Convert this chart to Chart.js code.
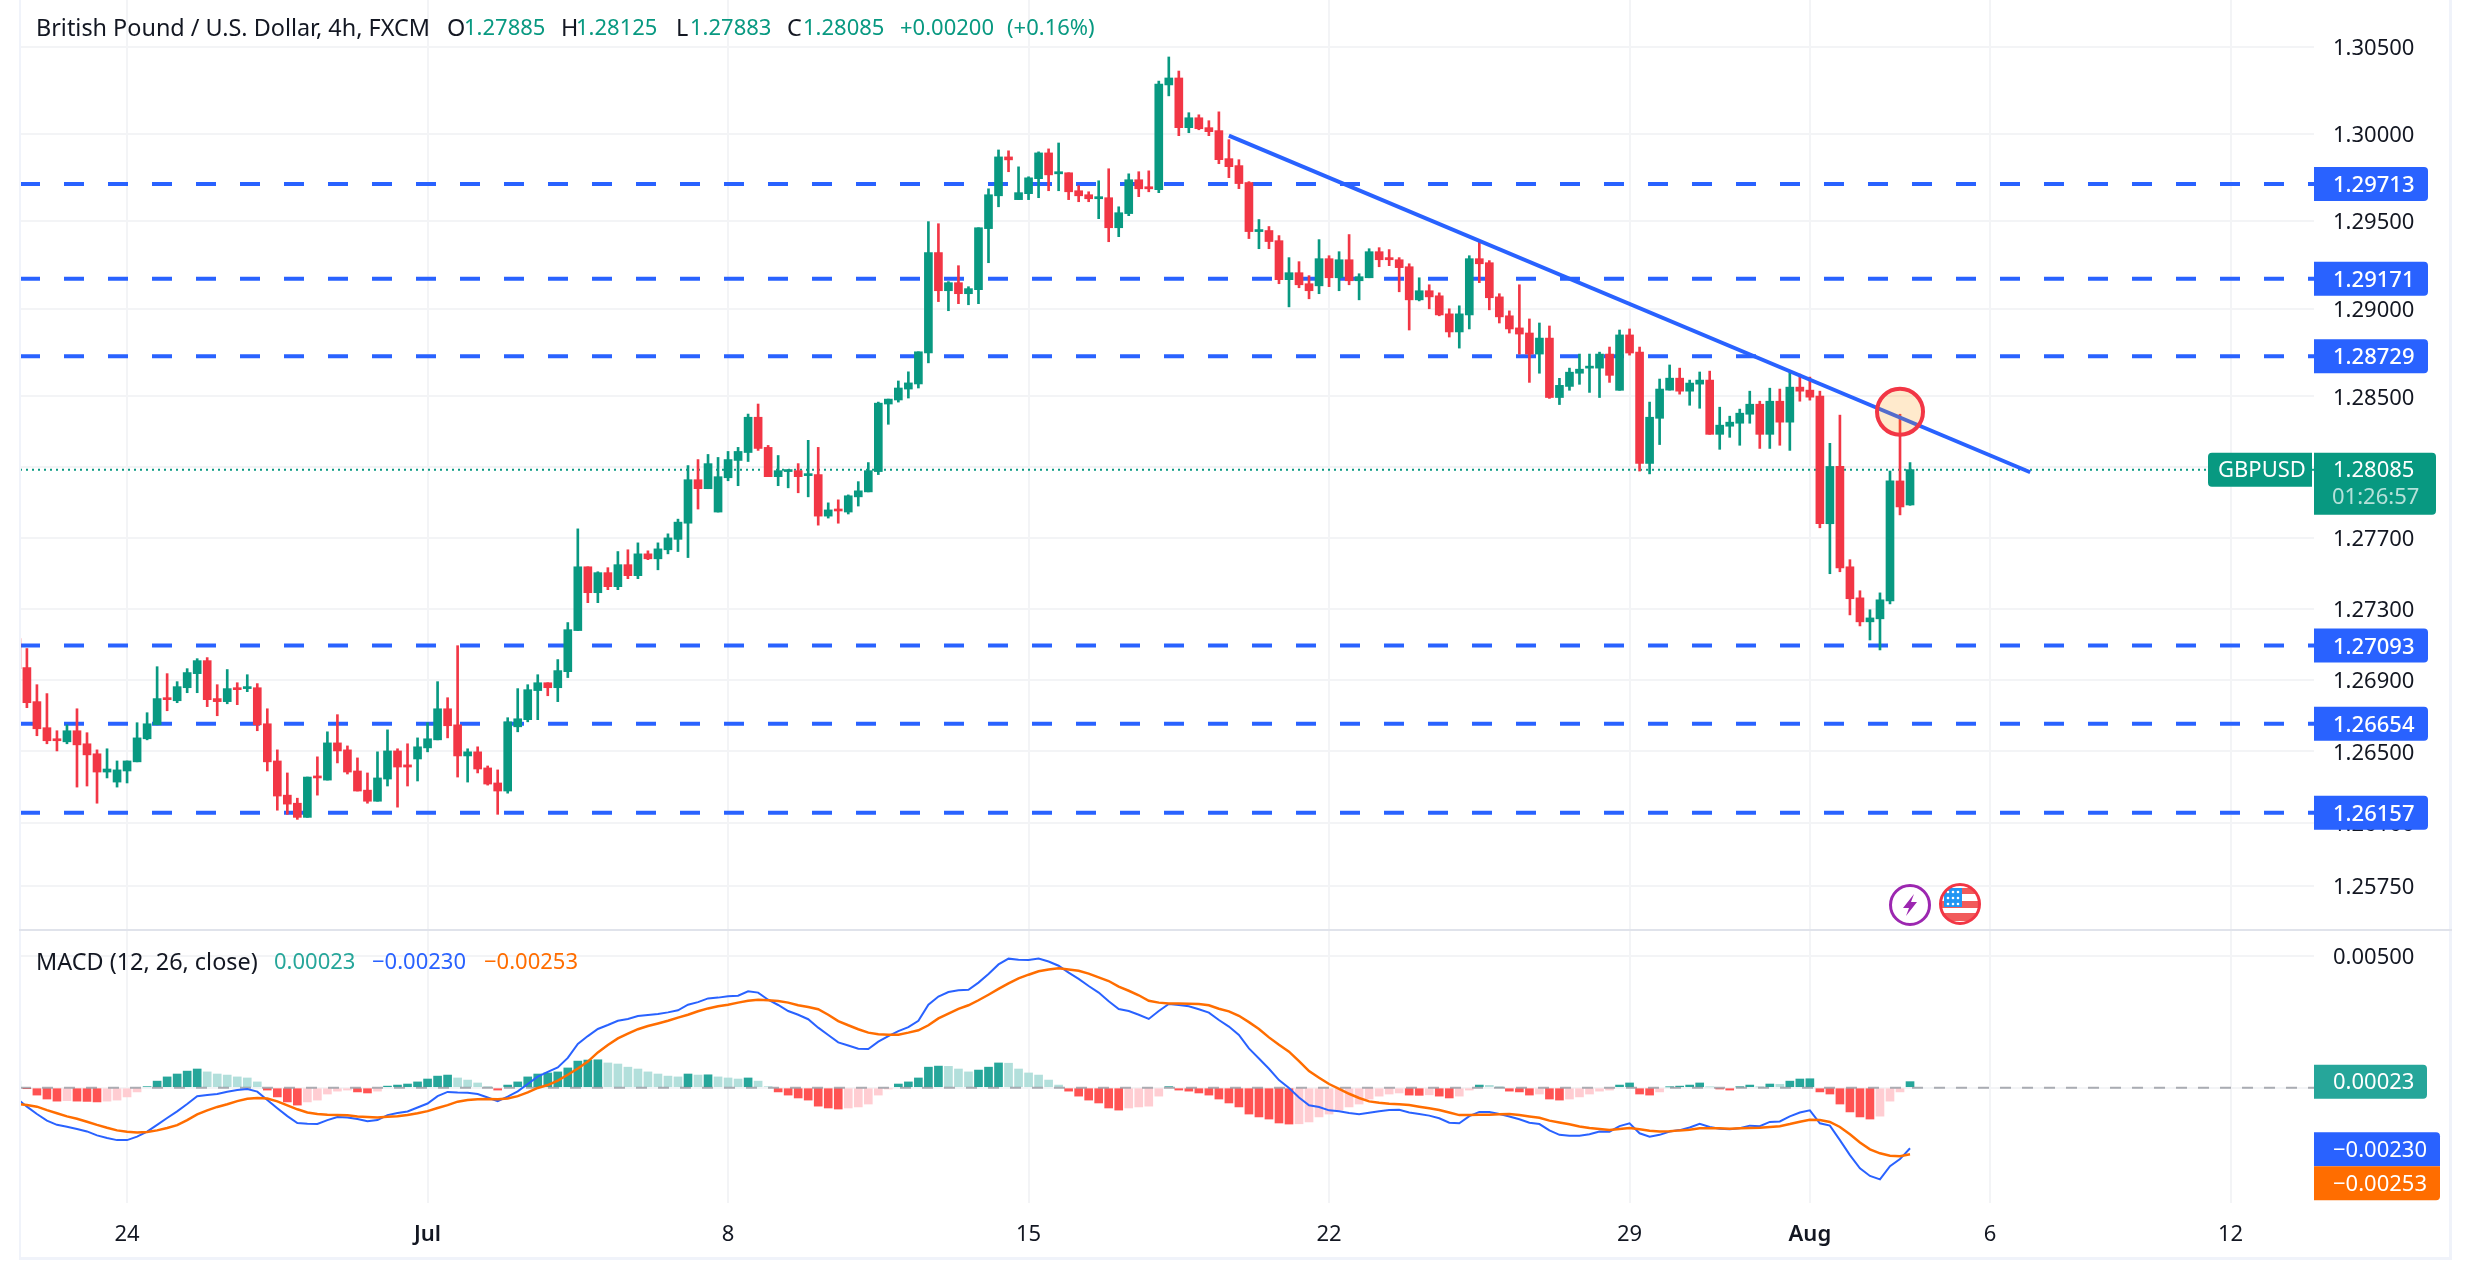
<!DOCTYPE html>
<html>
<head>
<meta charset="utf-8">
<title>GBPUSD 4h</title>
<script src="https://cdn.jsdelivr.net/npm/chart.js@4/dist/chart.umd.min.js"></script>
<style>
  html, body { margin: 0; padding: 0; background: #fff; width: 2470px; height: 1266px; overflow: hidden; }
  canvas { position: absolute; left: 0; display: block; }
  #priceChart { top: 0; }
  #macdChart { top: 931px; }
</style>
</head>
<body>
<canvas id="priceChart" width="2470" height="931"></canvas>
<canvas id="macdChart" width="2470" height="335"></canvas>
<script>
// Candles, 4h bars, the first one is cut off by the left edge
const opens = [
  1.27132,1.26969,1.26778,1.26632,1.26570,1.26553,1.26615,1.26542,1.26486,1.26384,
  1.26328,1.26390,1.26441,1.26570,1.26648,1.26800,1.26783,1.26856,1.26935,1.27008,
  1.26795,1.26778,1.26856,1.26851,1.26856,1.26654,1.26446,1.26255,1.26210,1.26131,
  1.26362,1.26339,1.26547,1.26508,1.26390,1.26283,1.26221,1.26345,1.26502,1.26424,
  1.26457,1.26519,1.26564,1.26738,1.26648,1.26474,1.26497,1.26407,1.26323,1.26278,
  1.26637,1.26677,1.26840,1.26884,1.26856,1.26946,1.27177,1.27536,1.27390,1.27503,
  1.27424,1.27548,1.27486,1.27609,1.27581,1.27632,1.27691,1.27782,1.28028,1.27977,
  1.27845,1.28039,1.28137,1.28182,1.28382,1.28211,1.28045,1.28074,1.28079,1.28051,
  1.28057,1.27822,1.27862,1.27845,1.27931,1.27959,1.28074,1.28457,1.28480,1.28542,
  1.28571,1.28748,1.29320,1.29102,1.29148,1.29085,1.29108,1.29457,1.29645,1.29868,
  1.29623,1.29657,1.29743,1.29891,1.29771,1.29777,1.29674,1.29651,1.29628,1.29634,
  1.29462,1.29543,1.29737,1.29697,1.29680,1.30282,1.30322,1.30036,1.30093,1.30036,
  1.30019,1.29858,1.29818,1.29721,1.29440,1.29446,1.29388,1.29165,1.29205,1.29142,
  1.29130,1.29285,1.29176,1.29279,1.29159,1.29176,1.29325,1.29291,1.29279,1.29239,
  1.29050,1.29102,1.29073,1.28970,1.28867,1.28964,1.29285,1.29262,1.29067,1.28959,
  1.28890,1.28861,1.28741,1.28832,1.28494,1.28557,1.28632,1.28661,1.28661,1.28741,
  1.28535,1.28850,1.28753,1.28120,1.28376,1.28536,1.28604,1.28530,1.28570,1.28593,
  1.28285,1.28331,1.28348,1.28399,1.28456,1.28285,1.28473,1.28354,1.28553,1.28536,
  1.28502,1.27779,1.28103,1.27536,1.27361,1.27226,1.27243,1.27344,1.28021,1.27885
];
const highs = [
  1.27132,1.27076,1.26873,1.26823,1.26615,1.26648,1.26738,1.26604,1.26508,1.26514,
  1.26446,1.26446,1.26660,1.26716,1.26974,1.26935,1.26890,1.26963,1.27019,1.27025,
  1.26873,1.26958,1.26884,1.26929,1.26879,1.26738,1.26508,1.26379,1.26238,1.26356,
  1.26469,1.26609,1.26705,1.26530,1.26463,1.26379,1.26497,1.26620,1.26514,1.26542,
  1.26575,1.26660,1.26890,1.26800,1.27092,1.26514,1.26525,1.26418,1.26396,1.26688,
  1.26851,1.26873,1.26929,1.26884,1.27014,1.27222,1.27750,1.27536,1.27508,1.27531,
  1.27622,1.27632,1.27671,1.27626,1.27671,1.27722,1.27805,1.28108,1.28142,1.28171,
  1.28154,1.28188,1.28211,1.28400,1.28457,1.28222,1.28165,1.28085,1.28119,1.28251,
  1.28211,1.27897,1.27914,1.27942,1.28017,1.28125,1.28468,1.28485,1.28588,1.28640,
  1.28754,1.29497,1.29485,1.29154,1.29245,1.29125,1.29462,1.29685,1.29908,1.29903,
  1.29811,1.29754,1.29897,1.29914,1.29948,1.29777,1.29703,1.29668,1.29731,1.29800,
  1.29582,1.29771,1.29783,1.29788,1.30304,1.30443,1.30362,1.30122,1.30110,1.30076,
  1.30127,1.29967,1.29852,1.29726,1.29509,1.29469,1.29417,1.29291,1.29268,1.29188,
  1.29394,1.29302,1.29325,1.29423,1.29199,1.29342,1.29348,1.29337,1.29291,1.29256,
  1.29176,1.29136,1.29090,1.28999,1.29016,1.29302,1.29383,1.29274,1.29085,1.28987,
  1.29136,1.28941,1.28918,1.28901,1.28603,1.28661,1.28741,1.28741,1.28752,1.28781,
  1.28878,1.28884,1.28781,1.28468,1.28599,1.28679,1.28661,1.28593,1.28639,1.28644,
  1.28439,1.28388,1.28428,1.28530,1.28473,1.28547,1.28542,1.28644,1.28627,1.28610,
  1.28530,1.28234,1.28394,1.27576,1.27401,1.27294,1.27389,1.28077,1.28399,1.28125
];
const lows = [
  1.26963,1.26744,1.26587,1.26542,1.26502,1.26542,1.26300,1.26306,1.26210,1.26351,
  1.26300,1.26323,1.26441,1.26564,1.26648,1.26727,1.26772,1.26828,1.26828,1.26750,
  1.26699,1.26766,1.26761,1.26834,1.26615,1.26390,1.26171,1.26148,1.26120,1.26131,
  1.26255,1.26339,1.26435,1.26373,1.26278,1.26210,1.26221,1.26306,1.26188,1.26306,
  1.26334,1.26497,1.26564,1.26575,1.26356,1.26328,1.26379,1.26311,1.26148,1.26266,
  1.26609,1.26665,1.26677,1.26811,1.26778,1.26913,1.27177,1.27334,1.27334,1.27407,
  1.27407,1.27469,1.27469,1.27576,1.27519,1.27609,1.27622,1.27588,1.27862,1.27977,
  1.27845,1.28022,1.27994,1.28131,1.28194,1.28045,1.27994,1.27982,1.27954,1.27931,
  1.27771,1.27811,1.27782,1.27834,1.27879,1.27959,1.28057,1.28342,1.28468,1.28491,
  1.28548,1.28691,1.29040,1.28988,1.29028,1.29022,1.29028,1.29262,1.29582,1.29783,
  1.29623,1.29623,1.29634,1.29674,1.29674,1.29623,1.29611,1.29611,1.29514,1.29382,
  1.29411,1.29531,1.29640,1.29668,1.29663,1.30219,1.29990,1.30007,1.30024,1.29990,
  1.29829,1.29749,1.29686,1.29400,1.29342,1.29342,1.29142,1.29010,1.29119,1.29056,
  1.29085,1.29125,1.29102,1.29136,1.29050,1.29176,1.29239,1.29245,1.29096,1.28878,
  1.29044,1.28999,1.28959,1.28838,1.28775,1.28884,1.29148,1.28993,1.28918,1.28861,
  1.28741,1.28580,1.28632,1.28489,1.28454,1.28535,1.28569,1.28523,1.28494,1.28580,
  1.28535,1.28735,1.28077,1.28061,1.28227,1.28536,1.28513,1.28450,1.28433,1.28285,
  1.28200,1.28268,1.28223,1.28348,1.28205,1.28205,1.28223,1.28194,1.28473,1.28479,
  1.27756,1.27497,1.27508,1.27265,1.27203,1.27124,1.27068,1.27327,1.27829,1.27883
];
const closes = [
  1.26963,1.26772,1.26626,1.26559,1.26559,1.26615,1.26536,1.26480,1.26384,1.26401,
  1.26396,1.26446,1.26575,1.26654,1.26795,1.26789,1.26862,1.26941,1.27008,1.26789,
  1.26778,1.26851,1.26845,1.26862,1.26648,1.26441,1.26250,1.26205,1.26131,1.26356,
  1.26351,1.26547,1.26502,1.26384,1.26278,1.26221,1.26351,1.26502,1.26412,1.26412,
  1.26525,1.26570,1.26738,1.26643,1.26474,1.26497,1.26401,1.26317,1.26278,1.26665,
  1.26682,1.26845,1.26884,1.26856,1.26952,1.27182,1.27536,1.27390,1.27503,1.27424,
  1.27548,1.27486,1.27609,1.27581,1.27637,1.27699,1.27788,1.28028,1.27977,1.28119,
  1.28045,1.28142,1.28188,1.28382,1.28205,1.28045,1.28079,1.28085,1.28045,1.28062,
  1.27822,1.27857,1.27851,1.27937,1.27965,1.28079,1.28462,1.28485,1.28548,1.28577,
  1.28754,1.29320,1.29102,1.29148,1.29085,1.29114,1.29462,1.29651,1.29868,1.29851,
  1.29663,1.29748,1.29891,1.29765,1.29783,1.29668,1.29645,1.29628,1.29640,1.29462,
  1.29548,1.29737,1.29685,1.29685,1.30287,1.30322,1.30036,1.30093,1.30030,1.30013,
  1.29852,1.29812,1.29715,1.29440,1.29451,1.29383,1.29165,1.29205,1.29136,1.29102,
  1.29285,1.29176,1.29279,1.29159,1.29182,1.29325,1.29279,1.29279,1.29234,1.29050,
  1.29102,1.29067,1.28964,1.28867,1.28970,1.29285,1.29256,1.29062,1.28953,1.28884,
  1.28855,1.28741,1.28832,1.28494,1.28563,1.28638,1.28655,1.28672,1.28741,1.28620,
  1.28850,1.28747,1.28120,1.28382,1.28542,1.28604,1.28530,1.28576,1.28593,1.28285,
  1.28337,1.28354,1.28405,1.28456,1.28285,1.28473,1.28354,1.28553,1.28530,1.28496,
  1.27779,1.28103,1.27530,1.27356,1.27226,1.27248,1.27350,1.28021,1.27874,1.28085
];

// MACD pane
const macdHist = [
  0.00025,-0.00003,-0.00028,-0.00043,-0.00051,-0.00049,-0.00051,-0.00052,-0.00054,-0.00051,
  -0.00047,-0.00035,-0.00016,0.00004,0.00025,0.00041,0.00052,0.00063,0.00071,0.00060,
  0.00052,0.00048,0.00041,0.00037,0.00022,-0.00009,-0.00035,-0.00054,-0.00066,-0.00054,
  -0.00047,-0.00024,-0.00013,-0.00009,-0.00016,-0.00020,-0.00013,0.00006,0.00010,0.00014,
  0.00022,0.00033,0.00044,0.00048,0.00037,0.00029,0.00018,0.00003,-0.00009,0.00010,
  0.00022,0.00041,0.00052,0.00056,0.00060,0.00075,0.00101,0.00105,0.00106,0.00094,
  0.00090,0.00078,0.00071,0.00060,0.00052,0.00044,0.00041,0.00052,0.00048,0.00049,
  0.00041,0.00037,0.00033,0.00037,0.00025,0.00004,-0.00016,-0.00028,-0.00039,-0.00047,
  -0.00070,-0.00077,-0.00081,-0.00077,-0.00073,-0.00062,-0.00028,-0.00005,0.00014,0.00022,
  0.00037,0.00078,0.00082,0.00081,0.00071,0.00060,0.00067,0.00078,0.00094,0.00093,
  0.00071,0.00056,0.00048,0.00029,0.00010,-0.00013,-0.00032,-0.00047,-0.00058,-0.00077,
  -0.00085,-0.00077,-0.00073,-0.00070,-0.00032,0.00004,-0.00009,-0.00013,-0.00020,-0.00028,
  -0.00043,-0.00058,-0.00073,-0.00100,-0.00111,-0.00119,-0.00134,-0.00138,-0.00137,-0.00130,
  -0.00111,-0.00100,-0.00085,-0.00073,-0.00062,-0.00043,-0.00032,-0.00024,-0.00020,-0.00028,
  -0.00029,-0.00027,-0.00032,-0.00039,-0.00032,-0.00009,0.00010,0.00009,0.00001,-0.00013,
  -0.00016,-0.00028,-0.00024,-0.00043,-0.00047,-0.00043,-0.00035,-0.00024,-0.00013,-0.00009,
  0.00010,0.00018,-0.00024,-0.00028,-0.00016,0.00003,0.00006,0.00010,0.00018,0.00003,
  -0.00005,-0.00009,0.00003,0.00010,0.00003,0.00014,0.00013,0.00025,0.00033,0.00034,
  -0.00016,-0.00024,-0.00062,-0.00092,-0.00111,-0.00119,-0.00108,-0.00051,-0.00016,0.00023
];
const macdLine = [
  -0.00041,-0.00072,-0.00100,-0.00125,-0.00141,-0.00148,-0.00157,-0.00166,-0.00181,-0.00191,
  -0.00199,-0.00199,-0.00186,-0.00167,-0.00141,-0.00115,-0.00090,-0.00062,-0.00032,-0.00028,
  -0.00024,-0.00015,-0.00009,-0.00005,-0.00015,-0.00047,-0.00078,-0.00108,-0.00134,-0.00137,
  -0.00138,-0.00123,-0.00111,-0.00113,-0.00119,-0.00127,-0.00123,-0.00104,-0.00096,-0.00090,
  -0.00075,-0.00060,-0.00032,-0.00016,-0.00018,-0.00019,-0.00024,-0.00037,-0.00051,-0.00034,
  -0.00014,0.00014,0.00042,0.00060,0.00077,0.00113,0.00166,0.00196,0.00223,0.00238,
  0.00254,0.00261,0.00272,0.00276,0.00280,0.00286,0.00294,0.00315,0.00325,0.00339,
  0.00342,0.00347,0.00349,0.00366,0.00361,0.00334,0.00314,0.00291,0.00277,0.00260,
  0.00228,0.00200,0.00172,0.00160,0.00148,0.00147,0.00175,0.00196,0.00215,0.00230,
  0.00254,0.00315,0.00346,0.00363,0.00370,0.00372,0.00399,0.00432,0.00468,0.00490,
  0.00486,0.00485,0.00490,0.00479,0.00463,0.00437,0.00413,0.00386,0.00361,0.00328,
  0.00299,0.00291,0.00277,0.00261,0.00291,0.00318,0.00314,0.00309,0.00298,0.00285,
  0.00257,0.00232,0.00200,0.00149,0.00111,0.00072,0.00029,-0.00001,-0.00037,-0.00067,
  -0.00073,-0.00086,-0.00089,-0.00096,-0.00101,-0.00095,-0.00089,-0.00085,-0.00084,-0.00094,
  -0.00100,-0.00106,-0.00116,-0.00133,-0.00135,-0.00108,-0.00092,-0.00092,-0.00100,-0.00109,
  -0.00120,-0.00133,-0.00138,-0.00162,-0.00179,-0.00182,-0.00182,-0.00177,-0.00166,-0.00167,
  -0.00146,-0.00135,-0.00173,-0.00186,-0.00179,-0.00166,-0.00161,-0.00151,-0.00137,-0.00149,
  -0.00156,-0.00158,-0.00154,-0.00144,-0.00146,-0.00130,-0.00128,-0.00109,-0.00094,-0.00086,
  -0.00135,-0.00144,-0.00199,-0.00256,-0.00306,-0.00335,-0.00348,-0.00298,-0.00271,-0.00230
];
const signalLine = [
  -0.00062,-0.00066,-0.00072,-0.00085,-0.00097,-0.00109,-0.00118,-0.00129,-0.00141,-0.00152,
  -0.00162,-0.00167,-0.00170,-0.00168,-0.00162,-0.00153,-0.00142,-0.00123,-0.00101,-0.00086,
  -0.00073,-0.00063,-0.00051,-0.00042,-0.00039,-0.00041,-0.00052,-0.00067,-0.00082,-0.00094,
  -0.00100,-0.00103,-0.00104,-0.00105,-0.00109,-0.00111,-0.00113,-0.00110,-0.00108,-0.00104,
  -0.00097,-0.00089,-0.00077,-0.00066,-0.00053,-0.00047,-0.00044,-0.00043,-0.00044,-0.00041,
  -0.00032,-0.00018,-0.00001,0.00010,0.00027,0.00049,0.00073,0.00099,0.00134,0.00162,
  0.00187,0.00205,0.00222,0.00234,0.00244,0.00254,0.00266,0.00277,0.00290,0.00301,
  0.00309,0.00315,0.00323,0.00330,0.00334,0.00332,0.00329,0.00323,0.00313,0.00306,
  0.00298,0.00277,0.00253,0.00237,0.00222,0.00209,0.00203,0.00201,0.00201,0.00209,
  0.00218,0.00237,0.00263,0.00281,0.00299,0.00313,0.00332,0.00353,0.00375,0.00396,
  0.00415,0.00429,0.00442,0.00449,0.00453,0.00449,0.00444,0.00433,0.00419,0.00405,
  0.00384,0.00368,0.00351,0.00330,0.00323,0.00320,0.00320,0.00319,0.00318,0.00313,
  0.00300,0.00290,0.00273,0.00249,0.00223,0.00191,0.00163,0.00137,0.00101,0.00063,
  0.00038,0.00014,-0.00004,-0.00023,-0.00039,-0.00052,-0.00057,-0.00061,-0.00063,-0.00066,
  -0.00072,-0.00078,-0.00085,-0.00094,-0.00104,-0.00104,-0.00103,-0.00103,-0.00101,-0.00100,
  -0.00104,-0.00109,-0.00114,-0.00125,-0.00132,-0.00139,-0.00147,-0.00153,-0.00157,-0.00161,
  -0.00157,-0.00153,-0.00158,-0.00163,-0.00166,-0.00165,-0.00162,-0.00160,-0.00154,-0.00154,
  -0.00154,-0.00156,-0.00154,-0.00153,-0.00152,-0.00149,-0.00146,-0.00138,-0.00129,-0.00122,
  -0.00123,-0.00130,-0.00149,-0.00177,-0.00208,-0.00234,-0.00249,-0.00258,-0.00260,-0.00253
];

// Axis labels
const dateTickBars = [11, 41, 71, 101, 131, 161, 179, 197, 221];
const dateTickLabels = ['24', 'Jul', '8', '15', '22', '29', 'Aug', '6', '12'];
const priceTicks = [1.305, 1.3, 1.295, 1.29, 1.285, 1.281, 1.277, 1.273, 1.269, 1.265, 1.261, 1.2575];
const macdTicks = [0.005, 0];

// Drawings on the price pane
const supportLevels = [1.29713, 1.29171, 1.28729, 1.27093, 1.26654, 1.26157];
const lastPrice = 1.28085;
const trendBars = [121, 201];
const trendPrices = [1.2999, 1.2807];
const touchBar = 188;
const touchPrice = 1.28413;

const GREEN = '#089981', RED = '#F23645', BLUE = '#2962FF', ORANGE = '#FF6D00';
const TEAL = '#26A69A', TEXT = '#131722', GRID = '#F3F4F6', FRAME = '#F0F3FA';
const FONT = '"Noto Sans"';

// bar index range of the plot, shared by both panes
const barMin = 0.311, barMax = 229.33;

const barIndex = opens.map((_, i) => i);
const isUp = i => closes[i] >= opens[i];
const candleColor = ctx => isUp(ctx.dataIndex) ? GREEN : RED;

function flatLine(value, color, width, dash, order) {
    return {
        type: 'line',
        data: [{x: barMin, y: value}, {x: barMax, y: value}],
        borderColor: color,
        borderWidth: width,
        borderDash: dash,
        pointRadius: 0,
        order: order
    };
}

function box(ctx, x, y, w, h, color, radius) {
    ctx.fillStyle = color;
    ctx.beginPath();
    ctx.roundRect(x, y, w, h, radius);
    ctx.fill();
}

function label(ctx, text, x, y, color, font) {
    ctx.font = font || '22px ' + FONT;
    ctx.fillStyle = color;
    ctx.textAlign = 'left';
    ctx.textBaseline = 'middle';
    ctx.fillText(text, x, y);
}

function dateFromTick(value) {
    const i = dateTickBars.indexOf(value);
    return i < 0 ? '' : dateTickLabels[i];
}

// the tick labels must not push the plot away from the pane edges
function noAxisPadding(axis) {
    axis.paddingTop = 0;
    axis.paddingBottom = 0;
    axis.paddingLeft = 0;
    axis.paddingRight = 0;
}

function drawIcons(ctx) {
    // lightning badge
    ctx.save();
    ctx.beginPath();
    ctx.arc(1910, 905, 19.5, 0, Math.PI * 2);
    ctx.fillStyle = '#fff';
    ctx.fill();
    ctx.lineWidth = 3;
    ctx.strokeStyle = '#9C27B0';
    ctx.stroke();
    ctx.fillStyle = '#9C27B0';
    ctx.beginPath();
    ctx.moveTo(1914, 894);
    ctx.lineTo(1903, 908);
    ctx.lineTo(1909, 908);
    ctx.lineTo(1906, 916);
    ctx.lineTo(1917, 902);
    ctx.lineTo(1911, 902);
    ctx.closePath();
    ctx.fill();
    ctx.restore();

    // US flag badge
    ctx.save();
    ctx.beginPath();
    ctx.arc(1960, 904, 19.5, 0, Math.PI * 2);
    ctx.fillStyle = '#fff';
    ctx.fill();
    ctx.clip();
    ctx.fillStyle = '#F15B5B';
    ctx.fillRect(1940, 888, 40, 6);
    ctx.fillRect(1940, 901, 40, 7);
    ctx.fillRect(1940, 913, 40, 8);
    ctx.fillStyle = '#2196F3';
    ctx.fillRect(1944, 888, 18, 19);
    ctx.fillStyle = '#fff';
    for (let r = 0; r < 3; r++) {
        for (let c = 0; c < 3; c++) {
            ctx.beginPath();
            ctx.arc(1948 + c * 5, 892 + r * 6, 1.3, 0, Math.PI * 2);
            ctx.fill();
        }
    }
    ctx.restore();
    ctx.beginPath();
    ctx.arc(1960, 904, 19.5, 0, Math.PI * 2);
    ctx.lineWidth = 3;
    ctx.strokeStyle = RED;
    ctx.stroke();
}

const priceOverlay = {
    id: 'priceOverlay',
    afterDraw(chart) {
        const ctx = chart.ctx;
        const y = chart.scales.y;
        ctx.save();

        // frame
        ctx.fillStyle = FRAME;
        ctx.fillRect(19, 0, 2, 931);
        ctx.fillRect(2449, 0, 3, 931);
        ctx.fillStyle = '#E0E3EB';
        ctx.fillRect(19, 929, 2433, 2);

        // header line
        const wide = '23.4px ' + FONT;
        const header = [
            ['British Pound / U.S. Dollar, 4h, FXCM', 36, TEXT, wide], ['O', 447, TEXT, wide], ['1.27885', 464, GREEN],
            ['H', 561, TEXT, wide], ['1.28125', 576, GREEN], ['L', 676, TEXT, wide], ['1.27883', 690, GREEN],
            ['C', 787, TEXT, wide], ['1.28085', 803, GREEN], ['+0.00200', 900, GREEN], ['(+0.16%)', 1007, GREEN]
        ];
        header.forEach(h => label(ctx, h[0], h[1], 29, h[2], h[3]));

        // level tags on the price axis
        supportLevels.forEach(level => {
            const py = y.getPixelForValue(level);
            box(ctx, 2314, py - 17, 114, 34, BLUE, [0, 4, 4, 0]);
            label(ctx, level.toFixed(5), 2333, py + 2, '#fff', '500 22px ' + FONT);
        });

        // current price tags
        const last = y.getPixelForValue(lastPrice);
        box(ctx, 2208, last - 17, 104, 34, GREEN, [4, 0, 0, 4]);
        label(ctx, 'GBPUSD', 2218, last + 1, '#fff');
        box(ctx, 2314, last - 17, 122, 62, GREEN, [0, 4, 4, 0]);
        label(ctx, lastPrice.toFixed(5), 2333, last + 1, '#fff');
        label(ctx, '01:26:57', 2332, last + 28, 'rgba(255,255,255,0.7)');

        drawIcons(ctx);
        ctx.restore();
    }
};

new Chart(document.getElementById('priceChart'), {
    type: 'bar',
    data: {
        datasets: [
            {
                type: 'line',
                data: [{x: touchBar, y: touchPrice}],
                pointRadius: 23,
                pointBorderWidth: 4,
                pointBorderColor: RED,
                pointBackgroundColor: 'rgba(255, 152, 0, 0.2)',
                showLine: false,
                order: 0
            },
            {
                type: 'line',
                data: trendBars.map((b, i) => ({x: b, y: trendPrices[i]})),
                borderColor: BLUE,
                borderWidth: 4,
                pointRadius: 0,
                order: 1
            },
            {
                data: barIndex.map(i => ({x: i, y: [opens[i], closes[i]]})),
                backgroundColor: candleColor,
                barThickness: 8,
                minBarLength: 2,
                grouped: false,
                order: 2
            },
            {
                data: barIndex.map(i => ({x: i, y: [lows[i], highs[i]]})),
                backgroundColor: candleColor,
                barThickness: 2,
                grouped: false,
                order: 3
            },
            ...supportLevels.map(level => flatLine(level, BLUE, 4, [20, 24], 5)),
            flatLine(lastPrice, GREEN, 2, [2, 4], 6)
        ]
    },
    options: {
        responsive: false,
        animation: false,
        devicePixelRatio: 1,
        events: [],
        layout: {autoPadding: false, padding: {left: 20, top: 0, right: 0, bottom: 0}},
        plugins: {legend: {display: false}, tooltip: {enabled: false}},
        scales: {
            x: {
                type: 'linear',
                offset: false,
                min: barMin,
                max: barMax,
                border: {display: false},
                grid: {color: GRID, lineWidth: 2, drawTicks: false, offset: false},
                ticks: {display: false},
                afterBuildTicks: axis => { axis.ticks = dateTickBars.map(v => ({value: v})); },
                afterFit: noAxisPadding
            },
            y: {
                type: 'logarithmic',
                position: 'right',
                bounds: 'data',
                min: 1.25499,
                max: 1.30772,
                border: {display: false},
                grid: {color: GRID, lineWidth: 2, drawTicks: false},
                ticks: {
                    padding: 19,
                    labelOffset: 2,
                    autoSkip: false,
                    color: TEXT,
                    font: {family: FONT, size: 22},
                    callback: v => v.toFixed(5)
                },
                afterBuildTicks: axis => { axis.ticks = priceTicks.map(v => ({value: v})); },
                afterFit: axis => { axis.width = 156; noAxisPadding(axis); }
            }
        }
    },
    plugins: [priceOverlay]
});

const macdOverlay = {
    id: 'macdOverlay',
    afterDraw(chart) {
        const ctx = chart.ctx;
        const y = chart.scales.y;
        ctx.save();

        // frame, canvas starts at 931 on the page
        ctx.fillStyle = FRAME;
        ctx.fillRect(19, 0, 2, 329);
        ctx.fillRect(2449, 0, 3, 329);
        ctx.fillRect(19, 326, 2433, 3);

        label(ctx, 'MACD (12, 26, close)', 36, 32, TEXT, '23.4px ' + FONT);
        label(ctx, '0.00023', 274, 32, TEAL);
        label(ctx, '\u22120.00230', 372, 32, BLUE);
        label(ctx, '\u22120.00253', 484, 32, ORANGE);

        const hist = macdHist[macdHist.length - 1];
        const mac = macdLine[macdLine.length - 1];
        box(ctx, 2314, y.getPixelForValue(0) - 23, 113, 34, TEAL, [0, 4, 4, 0]);
        label(ctx, hist.toFixed(5), 2333, y.getPixelForValue(0) - 5, '#fff');
        box(ctx, 2314, y.getPixelForValue(mac) - 16, 126, 34, BLUE, [0, 4, 0, 0]);
        label(ctx, '\u22120.00230', 2333, y.getPixelForValue(mac) + 2, '#fff');
        box(ctx, 2314, y.getPixelForValue(mac) + 18, 126, 34, ORANGE, [0, 0, 4, 0]);
        label(ctx, '\u22120.00253', 2333, y.getPixelForValue(mac) + 36, '#fff');
        ctx.restore();
    }
};

function histColor(ctx) {
    const i = ctx.dataIndex;
    const v = macdHist[i];
    const prev = i > 0 ? macdHist[i - 1] : v;
    if (v >= 0) {
        return v > prev ? TEAL : '#B2DFDB';
    }
    return v < prev ? '#FF5252' : '#FFCDD2';
}

new Chart(document.getElementById('macdChart'), {
    type: 'bar',
    data: {
        datasets: [
            {
                type: 'line',
                data: barIndex.map(i => ({x: i, y: signalLine[i]})),
                borderColor: ORANGE,
                borderWidth: 2.5,
                pointRadius: 0,
                order: 1
            },
            {
                type: 'line',
                data: barIndex.map(i => ({x: i, y: macdLine[i]})),
                borderColor: BLUE,
                borderWidth: 2,
                pointRadius: 0,
                order: 2
            },
            flatLine(0, 'rgba(120, 123, 134, 0.6)', 2, [11, 11], 3),
            {
                data: barIndex.map(i => ({x: i, y: macdHist[i]})),
                backgroundColor: histColor,
                barThickness: 8,
                order: 4
            }
        ]
    },
    options: {
        responsive: false,
        animation: false,
        devicePixelRatio: 1,
        events: [],
        layout: {autoPadding: false, padding: {left: 20, top: 0, right: 0, bottom: 0}},
        plugins: {legend: {display: false}, tooltip: {enabled: false}},
        scales: {
            x: {
                type: 'linear',
                offset: false,
                min: barMin,
                max: barMax,
                border: {display: false},
                grid: {color: GRID, lineWidth: 2, drawTicks: false, offset: false},
                ticks: {
                    padding: 19,
                    autoSkip: false,
                    maxRotation: 0,
                    color: TEXT,
                    font: ctx => ({family: FONT, size: 22, weight: (ctx.index === 1 || ctx.index === 6) ? '600' : '400'}),
                    callback: v => dateFromTick(v)
                },
                afterBuildTicks: axis => { axis.ticks = dateTickBars.map(v => ({value: v})); },
                afterFit: axis => { axis.height = 63; noAxisPadding(axis); }
            },
            y: {
                type: 'linear',
                position: 'right',
                min: -0.004377,
                max: 0.005949,
                border: {display: false},
                grid: {color: GRID, lineWidth: 2, drawTicks: false},
                ticks: {
                    padding: 19,
                    labelOffset: 2,
                    autoSkip: false,
                    color: TEXT,
                    font: {family: FONT, size: 22},
                    callback: v => v ? v.toFixed(5) : ''
                },
                afterBuildTicks: axis => { axis.ticks = macdTicks.map(v => ({value: v})); },
                afterFit: axis => { axis.width = 156; noAxisPadding(axis); }
            }
        }
    },
    plugins: [macdOverlay]
});
</script>
</body>
</html>
